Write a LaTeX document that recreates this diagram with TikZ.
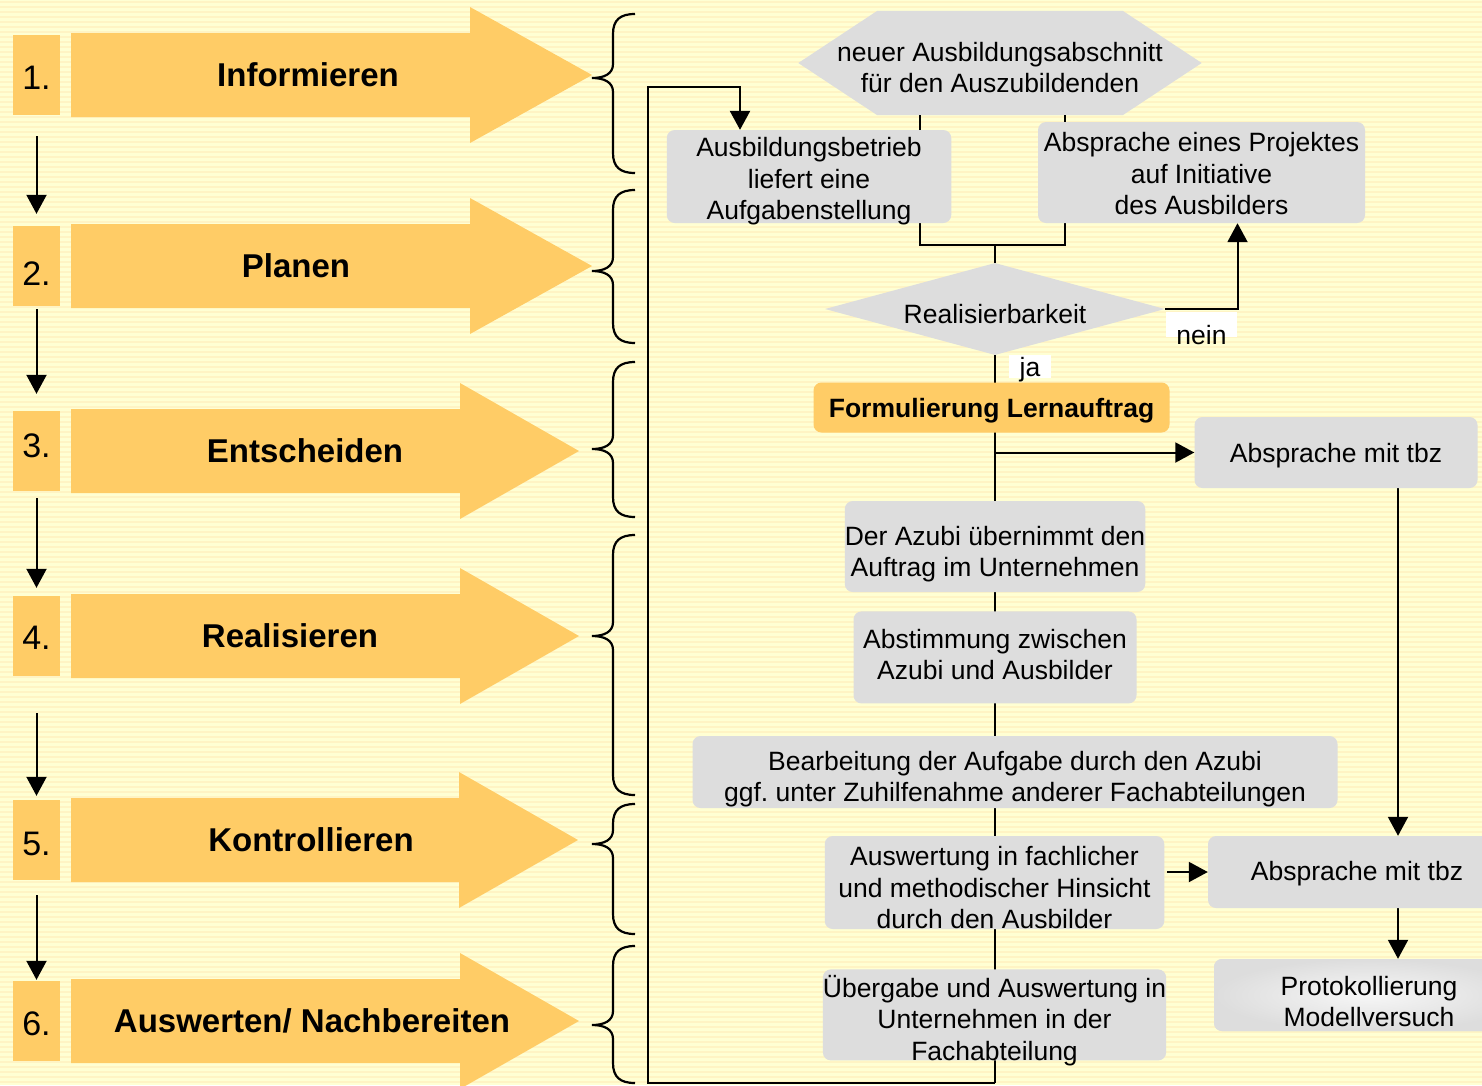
\documentclass[tikz,border=0pt]{standalone}
\usepackage{fontspec}
\setmainfont{Liberation Sans}
\usepackage{tikz}
\usetikzlibrary{shapes,positioning,arrows.meta}

\definecolor{papiergelb}{RGB}{255,255,211}
\definecolor{streifengelb}{RGB}{255,244,196}
\definecolor{phasenorange}{RGB}{255,204,102}
\definecolor{kastengrau}{RGB}{221,221,221}

\pgfdeclarelayer{papier}
\pgfdeclarelayer{linien}
\pgfsetlayers{papier,linien,main}

\newcommand{\schrift}{\fontsize{26.5pt}{31.5pt}\selectfont}
\newcommand{\klammer}[3]{%
  \draw[klammer] (635,#1) .. controls (620,#1) and (613,#1+6) .. (613,#1+20)
    -- (613,#2-14) .. controls (613,#2-4) and (604,#2) .. (592,#2)
    .. controls (604,#2) and (613,#2+4) .. (613,#2+14)
    -- (613,#3-20) .. controls (613,#3-6) and (620,#3) .. (635,#3);}

\begin{document}
\begin{tikzpicture}[x=1pt, y=-1pt,
    pfeil/.style={line width=2pt, -{Triangle[length=19pt,width=20pt]}},
    linie/.style={line width=2pt},
    klammer/.style={line width=2.2pt},
    nummer/.style={fill=phasenorange, minimum width=47pt, minimum height=80pt, inner sep=0pt, font=\fontsize{34pt}{40pt}\selectfont},
    phase/.style={font=\fontsize{33pt}{40pt}\selectfont\bfseries},
    kasten/.style={fill=kastengrau, rounded corners=8pt, inner sep=0pt, align=center, font=\schrift},
    sechseck/.style={inner sep=0pt, align=center, font=\schrift, minimum width=403pt, minimum height=104pt},
    raute/.style={diamond, fill=kastengrau, inner sep=0pt, aspect=3.7, minimum width=340pt, minimum height=92pt, font=\schrift},
    marke/.style={fill=white, inner sep=0pt, font=\schrift}
  ]
  \useasboundingbox (0,0) rectangle (1482,1085);

  \begin{pgfonlayer}{papier}
    \fill[papiergelb] (0,0) rectangle (1482,1085);
    \foreach \y in {2,7,...,1085}
      \draw[streifengelb, line width=1.2pt] (0,\y) -- (1482,\y);
  \end{pgfonlayer}

  % Phasen (links)
  \foreach \nr/\titel/\mitte/\hals/\spitze/\lx/\th in {1/Informieren/75/470/592/308/28, 2/Planen/266/470/592/296/39,
      3/Entscheiden/451/460/579/305/12, 4/Realisieren/636/460/579/290/27, 5/Kontrollieren/840/459/578/311/31,
      6/{Auswerten/ Nachbereiten}/1021/460/579/312/28}{
    \fill[phasenorange] (71,\mitte-42) -- (\hals,\mitte-42) -- (\hals,\mitte-68) -- (\spitze,\mitte)
      -- (\hals,\mitte+68) -- (\hals,\mitte+42) -- (71,\mitte+42) -- cycle;
    \node[nummer, text height=\th pt, text depth=0pt] (n\nr) at (36.5,\mitte) {\nr.};
    \node[phase] (p\nr) at (\lx,\mitte) {\titel};
  }
  \foreach \a/\b/\von/\bis in {1/2/21/12, 2/3/3/17, 3/4/7/8, 4/5/37/4, 5/6/15/1}
    \draw[pfeil, shorten <=\von pt, shorten >=\bis pt] (n\a.south) -- (n\b.north);

  \foreach \o/\s/\u in {14/78/173, 190/271/343, 362/449/517, 535/636/795, 804/844/934, 946/1025/1083}{
    \klammer{\o}{\s}{\u}
  }

  % Ablauf (rechts)
  \node[sechseck, text height=59pt, text depth=0pt] (neu) at (1000,63) {neuer Ausbildungsabschnitt\\für den Auszubildenden};
  \node[kasten, minimum width=284.5pt, minimum height=93pt, text height=86pt, text depth=0pt] (betrieb) at (809,176.5) {Ausbildungsbetrieb\\liefert eine\\Aufgabenstellung};
  \node[kasten, minimum width=327pt, minimum height=101pt, text height=84pt, text depth=0pt] (projekt) at (1201.5,172.5) {Absprache eines Projektes\\auf Initiative\\des Ausbilders};
  \node[raute, text height=28pt, text depth=0pt] (real) at (995,309) {Realisierbarkeit};
  \node[kasten, fill=phasenorange, font=\schrift\bfseries, minimum width=356pt, minimum height=50pt, text height=19pt, text depth=0pt] (lernauftrag) at (991.5,407.5) {Formulierung Lernauftrag};
  \node[kasten, minimum width=283pt, minimum height=71pt, text height=19pt, text depth=0pt] (tbzA) at (1336,452.5) {Absprache mit tbz};
  \node[kasten, minimum width=283pt, minimum height=91pt, text height=60pt, text depth=0pt] (uebernahme) at (995,546.5) {Der Azubi übernimmt den\\Auftrag im Unternehmen};
  \node[kasten, minimum width=283pt, minimum height=92pt, text height=45pt, text depth=0pt, below=19pt of uebernahme] (abstimmung) {Abstimmung zwischen\\Azubi und Ausbilder};
  \node[kasten, minimum width=645pt, minimum height=72pt, text height=59pt, text depth=0pt] (bearbeitung) at (1015,772) {Bearbeitung der Aufgabe durch den Azubi\\ggf.\ unter Zuhilfenahme anderer Fachabteilungen};
  \node[kasten, minimum width=339.5pt, minimum height=93pt, text height=92pt, text depth=0pt] (auswertung) at (994.5,882.5) {Auswertung in fachlicher\\und methodischer Hinsicht\\durch den Ausbilder};
  \node[kasten, minimum width=339.5pt, minimum height=91pt, text height=91pt, text depth=0pt, below=40pt of auswertung] (uebergabe) {Übergabe und Auswertung in\\Unternehmen in der\\Fachabteilung};
  \node[kasten, minimum width=298pt, minimum height=72pt, text height=16pt, text depth=0pt] (tbzB) at (1357,872) {Absprache mit tbz};
  \node[kasten, inner color=white!75!kastengrau, outer color=kastengrau, minimum width=310pt, minimum height=72pt, text height=63pt, text depth=0pt] (protokoll) at (1369,995) {Protokollierung\\Modellversuch};

  \node[marke, minimum width=71pt, anchor=north] (nein) at (1201.5,312) {\raisebox{-7pt}[25pt][0pt]{nein}};
  \node[marke, minimum width=42pt, anchor=north] (ja) at (1030,355) {\raisebox{2pt}[23pt][0pt]{ja}};

  \begin{pgfonlayer}{linien}
    \fill[kastengrau] (neu.west) -- ([xshift=79pt]neu.north west) -- ([xshift=-79pt]neu.north east) -- (neu.east)
      -- ([xshift=-79pt]neu.south east) -- ([xshift=79pt]neu.south west) -- cycle;
    \coordinate (zusammen) at (995,245);
    \coordinate (unten) at (995,1083);
    \coordinate (links) at (648,87);
    \coordinate (rechts) at (1398,0);
    \draw[linie] ([xshift=-80pt]neu.south) |- (zusammen) -| ([xshift=65pt]neu.south);
    \draw[linie] (zusammen) -- (real.north);
    \draw[linie] (real.south) -- (unten);
    \draw[pfeil] (real.east) -| ([xshift=36pt]projekt.south);
    \draw[pfeil] (real.south |- tbzA.west) -- (tbzA.west);
    \draw[pfeil] (rechts |- tbzA.south) -- (rechts |- tbzB.north);
    \draw[pfeil] (rechts |- tbzB.south) -- (rechts |- protokoll.north);
    \draw[pfeil, shorten <=3pt] (auswertung.east |- tbzB.west) -- (tbzB.west);
    % Rueckkopplung
    \draw[pfeil, line width=2.5pt] (unten) -| (links) -| ([xshift=-69pt]betrieb.north);
  \end{pgfonlayer}
\end{tikzpicture}
\end{document}
